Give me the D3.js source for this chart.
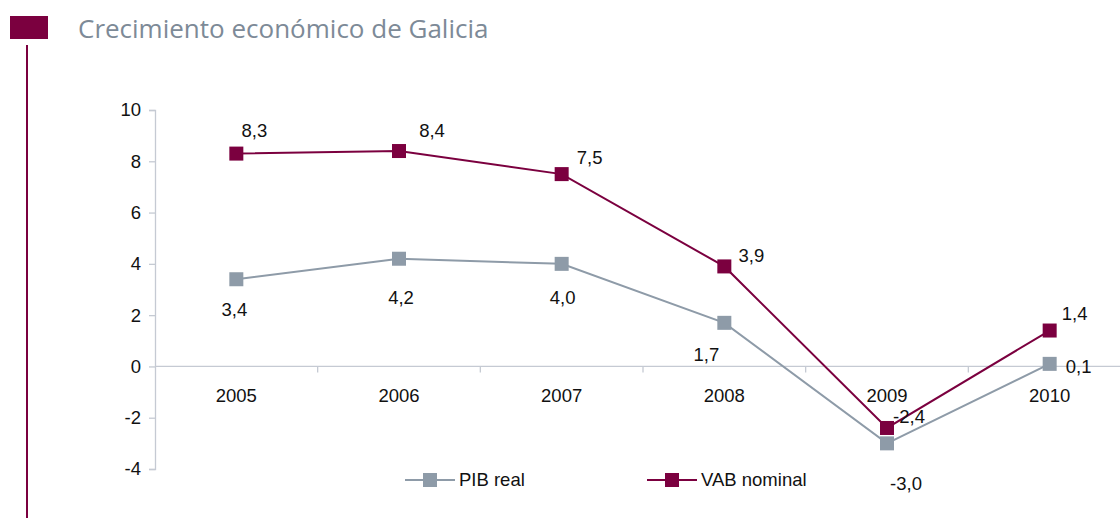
<!DOCTYPE html>
<html>
<head>
<meta charset="utf-8">
<script src="https://cdn.jsdelivr.net/npm/d3@7"></script>
<style>
  body { margin: 0; background: #fff; }
  svg { display: block; }
</style>
</head>
<body>
<div id="chart"></div>
<script>
var years = ["2005", "2006", "2007", "2008", "2009", "2010"];
var pibReal = [3.4, 4.2, 4.0, 1.7, -3.0, 0.1];
var vabNominal = [8.3, 8.4, 7.5, 3.9, -2.4, 1.4];
var yTicks = [-4, -2, 0, 2, 4, 6, 8, 10];

// label offsets (dx, dy) from each point, as placed in the original
var pibLabelPos = [[-2, 30], [2, 39], [1, 34], [-18, 32], [19, 40], [29, 3]];
var vabLabelPos = [[18, -23], [33, -21], [28, -17], [27, -11], [22, -11], [25, -17]];

var width = 1120, height = 518;
var svg = d3.select("#chart").append("svg")
    .attr("width", width)
    .attr("height", height);

var wine = "#7b003f", grey = "#8e9ba8", axisCol = "#c5cad3";
var font = "'Liberation Sans', Arial, sans-serif", fs = "18.5px";

// header
svg.append("rect").attr("x", 10).attr("y", 16).attr("width", 38).attr("height", 23).attr("fill", wine);
svg.append("rect").attr("x", 26).attr("y", 45).attr("width", 2).attr("height", 473).attr("fill", wine);
svg.append("text")
    .attr("x", 78).attr("y", 38)
    .attr("font-family", "'Open Sans', sans-serif")
    .attr("font-size", "26px")
    .attr("fill", "#7d8a97")
    .text("Crecimiento económico de Galicia");

var x = d3.scaleBand().domain(years).range([155, 1131]);
var y = d3.scaleLinear().domain([-4, 10]).range([469, 110]);

// y axis
var yAxis = svg.append("g")
    .attr("transform", "translate(155,0)")
    .call(d3.axisLeft(y).tickValues(yTicks).tickSize(6).tickPadding(8)
      .tickFormat(function(d) { return d; }));
yAxis.selectAll("line, path").attr("stroke", axisCol).attr("stroke-width", 1.3);
yAxis.selectAll("text").attr("font-family", font).attr("font-size", fs).attr("fill", "#111");

// x axis at zero, ticks at band boundaries
svg.append("line")
    .attr("x1", 155).attr("x2", 1131)
    .attr("y1", y(0)).attr("y2", y(0))
    .attr("stroke", axisCol).attr("stroke-width", 1.3);
svg.selectAll(".xtick").data(years.slice(1)).enter().append("line")
    .attr("x1", function(d) { return x(d); })
    .attr("x2", function(d) { return x(d); })
    .attr("y1", y(0)).attr("y2", y(0) + 6)
    .attr("stroke", axisCol).attr("stroke-width", 1.3);
svg.selectAll(".xlabel").data(years).enter().append("text")
    .attr("x", function(d) { return x(d) + x.bandwidth() / 2; })
    .attr("y", y(0) + 36)
    .attr("text-anchor", "middle")
    .attr("font-family", font).attr("font-size", fs).attr("fill", "#111")
    .text(function(d) { return d; });

var cx = function(d, i) { return x(years[i]) + x.bandwidth() / 2; };
var line = d3.line().x(cx).y(function(d) { return y(d); });

var series = [
  { name: "PIB real", values: pibReal, color: grey, pos: pibLabelPos },
  { name: "VAB nominal", values: vabNominal, color: wine, pos: vabLabelPos }
];

var fmt = function(v) { return v.toFixed(1).replace(".", ","); };

series.forEach(function(s) {
  svg.append("path")
      .datum(s.values)
      .attr("d", line)
      .attr("fill", "none")
      .attr("stroke", s.color)
      .attr("stroke-width", 2);
  svg.selectAll(null).data(s.values).enter().append("rect")
      .attr("x", function(d, i) { return cx(d, i) - 7; })
      .attr("y", function(d) { return y(d) - 7; })
      .attr("width", 14).attr("height", 14)
      .attr("fill", s.color);
});

series.forEach(function(s) {
  svg.selectAll(null).data(s.values).enter().append("text")
      .attr("x", function(d, i) { return cx(d, i) + s.pos[i][0]; })
      .attr("y", function(d, i) { return y(d) + s.pos[i][1]; })
      .attr("text-anchor", "middle")
      .attr("dy", "0.35em")
      .attr("font-family", font).attr("font-size", fs).attr("fill", "#111")
      .text(fmt);
});

// legend
var legend = svg.append("g").attr("transform", "translate(405,480)");
legend.selectAll("g").data(series).enter().append("g")
    .attr("transform", function(d, i) { return "translate(" + (i * 242) + ",0)"; })
    .call(function(g) {
      g.append("line").attr("x1", 0).attr("x2", 50).attr("y1", 0).attr("y2", 0)
        .attr("stroke", function(d) { return d.color; }).attr("stroke-width", 2);
      g.append("rect").attr("x", 18).attr("y", -7).attr("width", 14).attr("height", 14)
        .attr("fill", function(d) { return d.color; });
      g.append("text").attr("x", 54).attr("y", 0).attr("dy", "0.35em")
        .attr("font-family", font).attr("font-size", fs).attr("fill", "#111")
        .text(function(d) { return d.name; });
    });
</script>
</body>
</html>
